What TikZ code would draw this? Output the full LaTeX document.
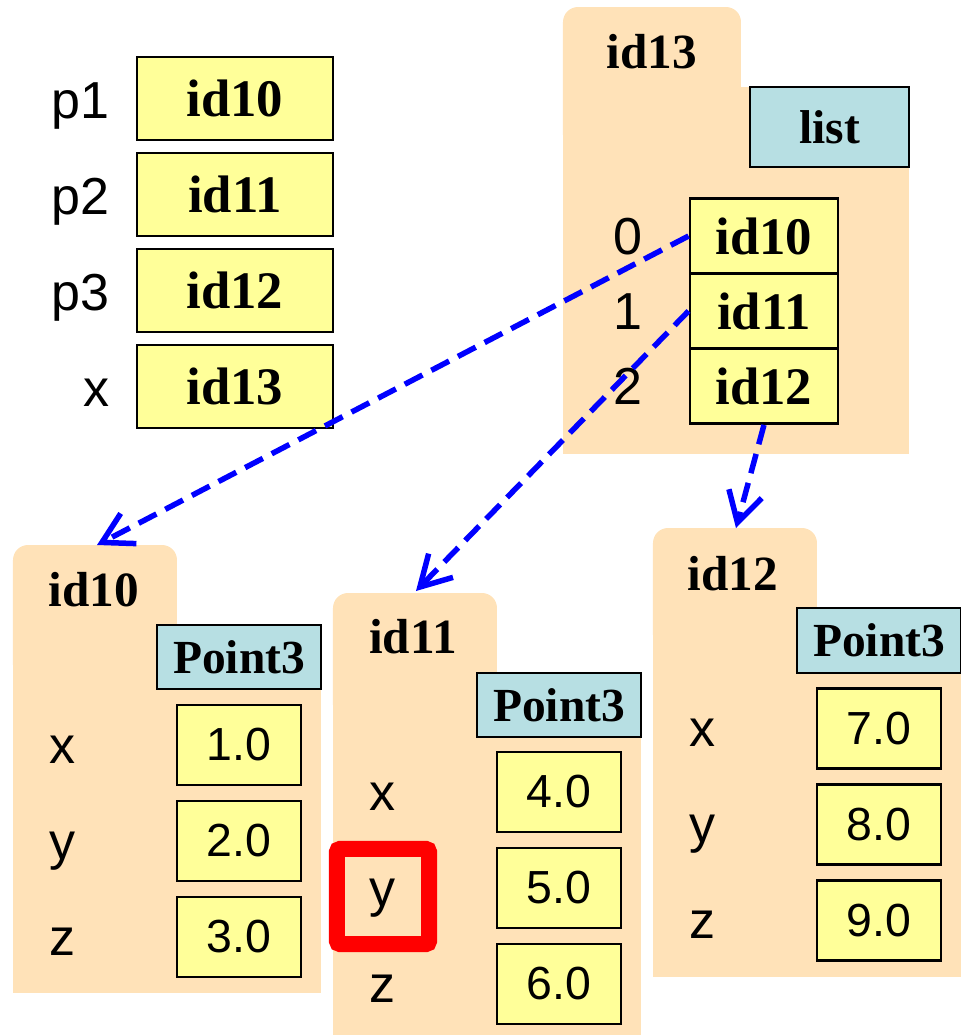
\documentclass[tikz,border=0pt]{standalone}
\usepackage{fontspec}
\setmainfont{Liberation Serif}
\setsansfont{Liberation Sans}
\usetikzlibrary{arrows.meta}
\definecolor{folderbg}{RGB}{255,226,184}
\definecolor{cellbg}{RGB}{255,255,153}
\definecolor{typebg}{RGB}{183,223,227}

\begin{document}
\begin{tikzpicture}[x=0.01cm,y=-0.01cm,
    folder/.style={fill=folderbg},
    cell/.style={draw=black,fill=cellbg,line width=0.8pt,inner sep=0pt,minimum width=1.24cm,minimum height=0.8cm,font=\sffamily\fontsize{13.2}{15}\selectfont},
    idcell/.style={cell,font=\bfseries\fontsize{15}{17}\selectfont},
    typebox/.style={draw=black,fill=typebg,line width=0.8pt,inner sep=0pt,minimum width=1.64cm,minimum height=0.64cm,font=\bfseries\fontsize{13.5}{15}\selectfont},
    varname/.style={inner sep=0pt,font=\sffamily\fontsize{14.8}{17}\selectfont},
    idlabel/.style={inner sep=0pt,font=\bfseries\fontsize{14}{16}\selectfont},
    ref/.style={blue,line width=0.055cm,dash pattern=on 0.2cm off 0.1cm,-{Straight Barb[length=0.3cm,width=0.34cm]}},
    hilite/.style={draw=red,line width=0.16cm,rounded corners=0.03cm,minimum width=0.92cm,minimum height=0.95cm}]
    \useasboundingbox (0,0) rectangle (961,1035);

    % global variables
    \node[idcell,minimum width=1.96cm,minimum height=0.83cm] (p1v) at (235,98.5) {id10};
    \node[idcell,minimum width=1.96cm,minimum height=0.83cm] (p2v) at (235,194.5) {id11};
    \node[idcell,minimum width=1.96cm,minimum height=0.83cm] (p3v) at (235,290.5) {id12};
    \node[idcell,minimum width=1.96cm,minimum height=0.83cm] (xv) at (235,386.5) {id13};
    \node[varname,anchor=base east] (p1) at (110,118) {p1};
    \node[varname,anchor=base east] (p2) at (110,214) {p2};
    \node[varname,anchor=base east] (p3) at (110,310) {p3};
    \node[varname,anchor=base east] (x) at (110,406) {x};

    % list folder
    \fill[folder,rounded corners=0.15cm] (563,7) rectangle (741,150);
    \fill[folder] (563,87) rectangle (909,454);
    \node[idlabel,anchor=base] (f13) at (652,68) {id13};
    \node[typebox,minimum width=1.59cm,minimum height=0.8cm] (t13) at (829.5,127) {list};
    \node[idcell,minimum width=1.48cm,minimum height=0.75cm] (e0) at (764,236) {id10};
    \node[idcell,minimum width=1.48cm,minimum height=0.75cm] (e1) at (764,311) {id11};
    \node[idcell,minimum width=1.48cm,minimum height=0.75cm] (e2) at (764,386) {id12};
    \node[varname,anchor=base] (i0) at (628,254) {0};
    \node[varname,anchor=base] (i1) at (628,329) {1};
    \node[varname,anchor=base] (i2) at (628,404) {2};

    % id10 folder
    \fill[folder,rounded corners=0.15cm] (13,545) rectangle (177,680);
    \fill[folder] (13,630) rectangle (321,993);
    \node[idlabel,anchor=base] (f10) at (94,606) {id10};
    \node[typebox] (t10) at (239,657) {Point3};
    \node[cell] (a10x) at (239,745) {1.0};
    \node[cell] (a10y) at (239,841) {2.0};
    \node[cell] (a10z) at (239,937) {3.0};
    \node[varname,anchor=base] (n10x) at (63,763) {x};
    \node[varname,anchor=base] (n10y) at (63,859) {y};
    \node[varname,anchor=base] (n10z) at (63,955) {z};

    % id11 folder
    \fill[folder,rounded corners=0.15cm] (333,593) rectangle (497,720);
    \fill[folder] (333,678) rectangle (641,1035);
    \node[idlabel,anchor=base] (f11) at (413,653) {id11};
    \node[typebox] (t11) at (559,705) {Point3};
    \node[cell] (a11x) at (559,792) {4.0};
    \node[cell] (a11y) at (559,888) {5.0};
    \node[cell] (a11z) at (559,984) {6.0};
    \node[varname,anchor=base] (n11x) at (383,810) {x};
    \node[varname,anchor=base] (n11y) at (383,906) {y};
    \node[varname,anchor=base] (n11z) at (383,1002) {z};
    \node[hilite] (mark) at (383,896.5) {};

    % id12 folder
    \fill[folder,rounded corners=0.15cm] (653,528) rectangle (817,650);
    \fill[folder] (653,613) rectangle (961,977);
    \node[idlabel,anchor=base] (f12) at (733,590) {id12};
    \node[typebox,minimum height=0.65cm] (t12) at (879,640.5) {Point3};
    \node[cell] (a12x) at (879,728.5) {7.0};
    \node[cell] (a12y) at (879,824.5) {8.0};
    \node[cell] (a12z) at (879,920.5) {9.0};
    \node[varname,anchor=base] (n12x) at (703,746.5) {x};
    \node[varname,anchor=base] (n12y) at (703,842.5) {y};
    \node[varname,anchor=base] (n12z) at (703,938.5) {z};

    % references
    \coordinate (f10top) at (97,545);
    \coordinate (f11top) at (416,591);
    \coordinate (f12top) at (736,528);
    \draw[ref] (e0.west) -- (f10top);
    \draw[ref] (e1.west) -- (f11top);
    \draw[ref] (e2.south) -- (f12top);
\end{tikzpicture}
\end{document}
